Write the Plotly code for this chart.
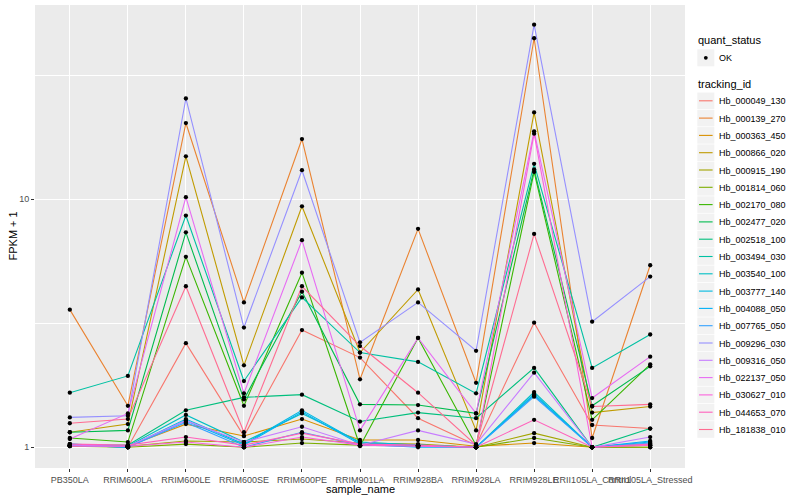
import plotly.graph_objects as go

samples = ["PB350LA", "RRIM600LA", "RRIM600LE", "RRIM600SE", "RRIM600PE", "RRIM901LA",
           "RRIM928BA", "RRIM928LA", "RRIM928LE", "RRII105LA_Control", "RRII105LA_Stressed"]

tracking_ids = ["Hb_000049_130", "Hb_000139_270", "Hb_000363_450", "Hb_000866_020",
                "Hb_000915_190", "Hb_001814_060", "Hb_002170_080", "Hb_002477_020",
                "Hb_002518_100", "Hb_003494_030", "Hb_003540_100", "Hb_003777_140",
                "Hb_004088_050", "Hb_007765_050", "Hb_009296_030", "Hb_009316_050",
                "Hb_022137_050", "Hb_030627_010", "Hb_044653_070", "Hb_181838_010"]

# FPKM + 1 per sample (order of samples)
hb_000049_130 = [1.02, 1.00, 2.63, 1.11, 2.97, 2.30, 1.31, 1.02, 3.18, 1.23, 1.19]
hb_000139_270 = [3.59, 1.47, 20.3, 3.84, 17.5, 1.88, 7.60, 1.82, 44.6, 1.09, 5.42]
hb_000363_450 = [1.02, 1.01, 1.24, 1.11, 1.30, 1.07, 1.07, 1.01, 1.04, 1.00, 1.02]
hb_000866_020 = [1.15, 1.24, 14.9, 2.14, 9.37, 2.41, 4.33, 1.17, 22.4, 1.38, 1.46]
hb_000915_190 = [1.01, 1.01, 1.06, 1.05, 1.08, 1.04, 1.03, 1.00, 1.14, 1.00, 1.00]
hb_001814_060 = [1.01, 1.00, 1.03, 1.00, 1.04, 1.02, 1.02, 1.00, 1.09, 1.00, 1.00]
hb_002170_080 = [1.09, 1.05, 5.86, 1.47, 5.06, 1.01, 2.76, 1.02, 12.9, 1.29, 2.16]
hb_002477_020 = [1.15, 1.17, 7.36, 1.56, 4.24, 1.49, 1.48, 1.37, 13.2, 1.47, 2.12]
hb_002518_100 = [1.02, 1.02, 1.41, 1.59, 1.63, 1.27, 1.38, 1.31, 2.09, 1.00, 1.19]
hb_003494_030 = [1.66, 1.94, 8.60, 1.85, 4.02, 2.41, 2.21, 1.65, 13.9, 2.09, 2.85]
hb_003540_100 = [1.03, 1.01, 1.35, 1.05, 1.37, 1.05, 1.02, 1.00, 1.67, 1.00, 1.03]
hb_003777_140 = [1.02, 1.00, 1.30, 1.03, 1.41, 1.04, 1.02, 1.00, 1.64, 1.00, 1.05]
hb_004088_050 = [1.03, 1.00, 1.28, 1.02, 1.39, 1.03, 1.00, 1.00, 1.62, 1.00, 1.06]
hb_007765_050 = [1.02, 1.00, 1.26, 1.00, 1.15, 1.02, 1.01, 1.00, 1.60, 1.00, 1.04]
hb_009296_030 = [1.32, 1.34, 25.5, 3.04, 13.1, 2.65, 3.84, 2.45, 50.6, 3.21, 4.88]
hb_009316_050 = [1.02, 1.01, 1.28, 1.05, 1.21, 1.02, 1.17, 1.03, 2.00, 1.00, 1.10]
hb_022137_050 = [1.08, 1.37, 10.2, 1.65, 6.84, 1.17, 2.76, 1.37, 18.8, 1.58, 2.32]
hb_030627_010 = [1.01, 1.01, 1.05, 1.00, 1.10, 1.02, 1.01, 1.00, 18.4, 1.00, 1.02]
hb_044653_070 = [1.03, 1.02, 1.10, 1.02, 1.14, 1.03, 1.02, 1.00, 1.29, 1.00, 1.03]
hb_181838_010 = [1.25, 1.30, 4.46, 1.15, 4.46, 2.56, 1.66, 1.02, 7.25, 1.46, 1.49]

series_values = [hb_000049_130, hb_000139_270, hb_000363_450, hb_000866_020, hb_000915_190,
                 hb_001814_060, hb_002170_080, hb_002477_020, hb_002518_100, hb_003494_030,
                 hb_003540_100, hb_003777_140, hb_004088_050, hb_007765_050, hb_009296_030,
                 hb_009316_050, hb_022137_050, hb_030627_010, hb_044653_070, hb_181838_010]

colors = ["#F8766D", "#EA8331", "#D89000", "#C09B00", "#A3A500", "#7CAE00", "#39B600",
          "#00BB4E", "#00BF7D", "#00C1A3", "#00BFC4", "#00BAE0", "#00B0F6", "#35A2FF",
          "#9590FF", "#C77CFF", "#E76BF3", "#FA62DB", "#FF62BC", "#FF6C91"]

FONT = "Liberation Sans, Arial, sans-serif"
W, H = 800, 500
PL, PR, PT, PB = 35, 685, 5, 468  # panel box in pixels


def px(x):
    return (x - PL) / (PR - PL)


def py(y):
    return (PB - y) / (PB - PT)


fig = go.Figure()
for name, vals, col in zip(tracking_ids, series_values, colors):
    fig.add_trace(go.Scatter(x=samples, y=vals, mode="lines", name=name,
                             line=dict(color=col, width=1.1), showlegend=False,
                             hoverinfo="skip"))
for name, vals in zip(tracking_ids, series_values):
    fig.add_trace(go.Scatter(x=samples, y=vals, mode="markers", name=name,
                             marker=dict(color="black", size=4.3), showlegend=False))

shapes = []
annotations = []

# legend: quant_status
annotations.append(dict(x=px(696), y=py(40.5), xref="paper", yref="paper", text="quant_status",
                        showarrow=False, xanchor="left", yanchor="middle",
                        font=dict(family=FONT, size=11, color="black")))
shapes.append(dict(type="rect", xref="paper", yref="paper", x0=px(697.3), x1=px(714.3),
                   y0=py(49.3), y1=py(66.3), fillcolor="#F2F2F2", line=dict(width=0)))
shapes.append(dict(type="circle", xref="paper", yref="paper", x0=px(703.9), x1=px(707.7),
                   y0=py(55.9), y1=py(59.7), fillcolor="black", line=dict(width=0)))
annotations.append(dict(x=px(716.5), y=py(57.8), xref="paper", yref="paper", text="OK",
                        showarrow=False, xanchor="left", yanchor="middle",
                        font=dict(family=FONT, size=9, color="black")))

# legend: tracking_id
annotations.append(dict(x=px(696), y=py(84), xref="paper", yref="paper", text="tracking_id",
                        showarrow=False, xanchor="left", yanchor="middle",
                        font=dict(family=FONT, size=11, color="black")))
step = 17.3
for i, (name, col) in enumerate(zip(tracking_ids, colors)):
    cy = 100.8 + i * step
    shapes.append(dict(type="rect", xref="paper", yref="paper", x0=px(697.3), x1=px(714.3),
                       y0=py(cy - 8.3), y1=py(cy + 8.3), fillcolor="#F2F2F2", line=dict(width=0)))
    shapes.append(dict(type="line", xref="paper", yref="paper", x0=px(699), x1=px(712.6),
                       y0=py(cy), y1=py(cy), line=dict(color=col, width=1.1)))
    annotations.append(dict(x=px(716.5), y=py(cy + 0.5), xref="paper", yref="paper", text=name,
                            showarrow=False, xanchor="left", yanchor="middle",
                            font=dict(family=FONT, size=9, color="black")))

# axis titles
annotations.append(dict(x=px(360), y=py(489), xref="paper", yref="paper", text="sample_name",
                        showarrow=False, xanchor="center", yanchor="middle",
                        font=dict(family=FONT, size=11, color="black")))
annotations.append(dict(x=px(12), y=py(236.5), xref="paper", yref="paper", text="FPKM + 1",
                        showarrow=False, xanchor="center", yanchor="middle", textangle=-90,
                        font=dict(family=FONT, size=11, color="black")))

fig.update_layout(
    width=W, height=H,
    margin=dict(l=PL, r=W - PR, t=PT, b=H - PB, pad=0),
    paper_bgcolor="white", plot_bgcolor="#EBEBEB",
    font=dict(family=FONT, size=9, color="#4D4D4D"),
    shapes=shapes, annotations=annotations, showlegend=False,
)
fig.update_xaxes(type="category", categoryorder="array", categoryarray=samples,
                 range=[-0.6, len(samples) - 0.4], showgrid=True, gridcolor="white", gridwidth=1.1,
                 zeroline=False, showline=False, ticks="outside", ticklen=3, tickcolor="#333333",
                 tickwidth=1, tickangle=0, tickfont=dict(family=FONT, size=9, color="#4D4D4D"))
fig.update_yaxes(type="log", range=[-0.0835, 1.7835], tickvals=[1, 10], ticktext=["1", "10"],
                 showgrid=True, gridcolor="white", gridwidth=1.1, zeroline=False, showline=False,
                 ticks="outside", ticklen=3, tickcolor="#333333", tickwidth=1,
                 tickfont=dict(family=FONT, size=9, color="#4D4D4D"),
                 minor=dict(tickvals=[3.1623, 31.623], showgrid=True, gridcolor="white",
                            gridwidth=0.55, ticks=""))

fig.write_html("out.html", config={"displayModeBar": False},
               post_script="document.body.style.margin='0';document.body.style.padding='0';")
